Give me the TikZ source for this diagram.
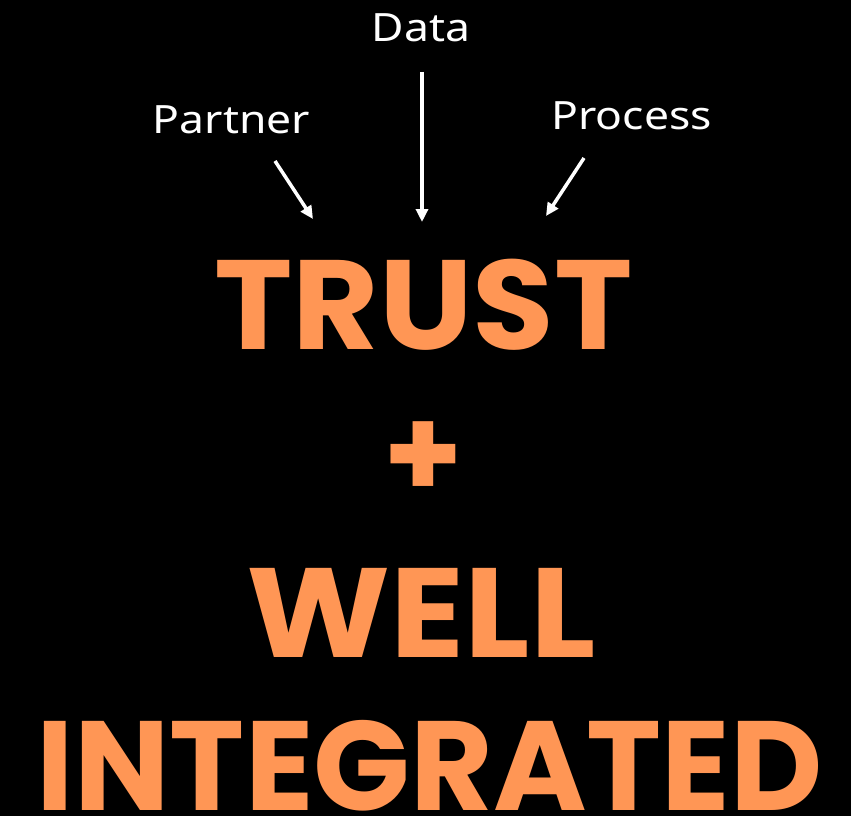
\documentclass[tikz,border=0pt]{standalone}
\usepackage{fontspec}
\usepackage{graphicx}
\usetikzlibrary{arrows.meta}
\newfontfamily\popfont{Poppins}
\newfontfamily\labfont{Noto Sans}[FakeStretch=1.14]
\definecolor{accent}{RGB}{255,150,85}
\tikzset{
  bigword/.style={text=accent, font=\popfont\bfseries\fontsize{127}{127}\selectfont, anchor=base, inner sep=0pt},
  lab/.style={text=white, font=\labfont\fontsize{39}{39}\selectfont, anchor=base, inner sep=0pt},
  arr/.style={draw=white, line width=3.5pt, -{Triangle[length=13pt,width=12pt]}}
}
\begin{document}
\begin{tikzpicture}[x=1pt,y=-1pt]
\fill[black] (0,0) rectangle (851,816);
\useasboundingbox (0,0) rectangle (851,816);
\node[lab] (data) at (421,42) {Data};
\node[lab] (partner) at (231.5,133) {Partner};
\node[lab] (process) at (631.5,129.5) {Process};
\coordinate (d1) at (422,72);
\coordinate (d2) at (422,222);
\coordinate (p1) at (275,161);
\coordinate (p2) at (313,219);
\coordinate (q1) at (584,158);
\coordinate (q2) at (546,216);
\draw[arr] (d1) -- (d2);
\draw[arr] (p1) -- (p2);
\draw[arr] (q1) -- (q2);
\node[bigword] (trust) at (423.5,349) {\scalebox{1.045}[1]{TRUST}};
\node[text=accent, font=\popfont\bfseries\fontsize{127}{127}\selectfont, inner sep=0pt] (plus) at (423,460.5) {+};
\node[bigword] (well) at (421,657) {\scalebox{1.08}[1]{WELL}};
\node[bigword] (integ) at (430,810.5) {INTEGRATED};
\end{tikzpicture}
\end{document}
